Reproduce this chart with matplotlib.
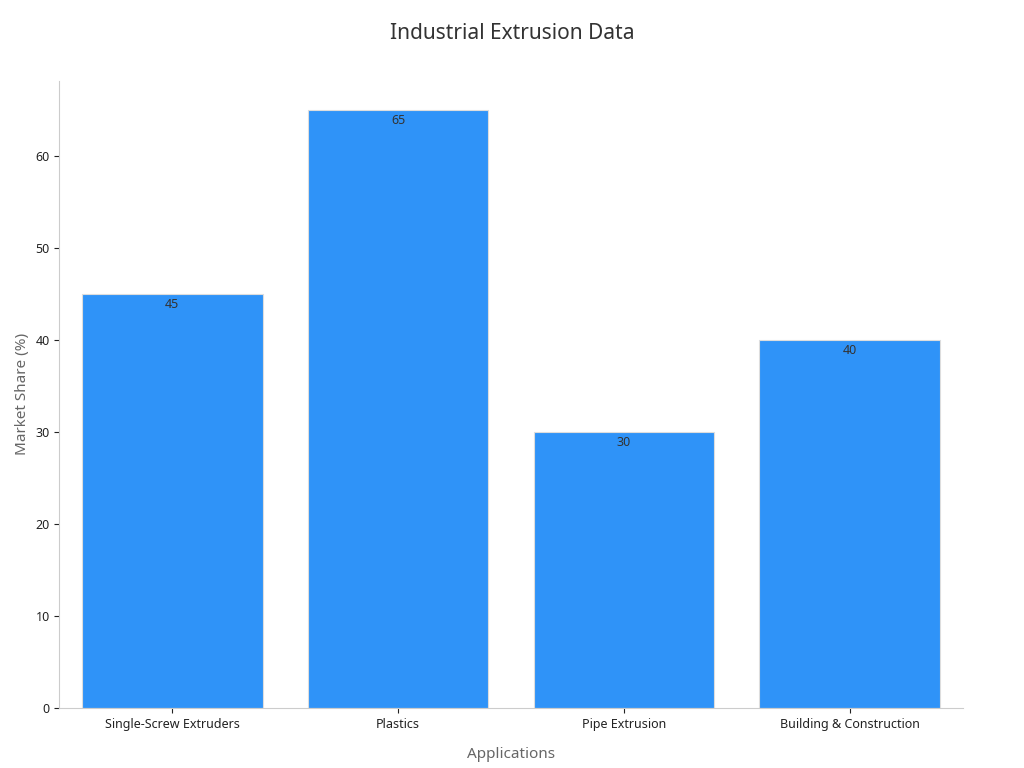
import matplotlib.pyplot as plt

categories = ['Single-Screw Extruders', 'Plastics', 'Pipe Extrusion', 'Building & Construction']
values = [45, 65, 30, 40]

plt.rcParams['font.family'] = ['Noto Sans', 'DejaVu Sans']
fig, ax = plt.subplots(figsize=(10.24, 7.68), dpi=100)
fig.subplots_adjust(left=0.058, right=0.94, top=0.895, bottom=0.078)

bars = ax.bar(categories, values, width=0.8, color='#2f93f8', edgecolor='#dddddd', linewidth=0.8)
for b, v in zip(bars, values):
    ax.text(b.get_x() + b.get_width() / 2, v - 0.4, str(v), ha='center', va='top',
            fontsize=9, color='#333333')

ax.set_xlim(-0.5, 3.5)
ax.set_ylim(0, 68.2)
ax.set_yticks(range(0, 70, 10))
ax.tick_params(labelsize=9, colors='#222222')
for s in ['top', 'right']:
    ax.spines[s].set_visible(False)
for s in ['left', 'bottom']:
    ax.spines[s].set_color('#cccccc')
ax.set_xlabel('Applications', fontsize=11, color='#666666', labelpad=12)
ax.set_ylabel('Market Share (%)', fontsize=11, color='#666666')
fig.suptitle('Industrial Extrusion Data', fontsize=15, color='#333333', x=0.5, y=0.97)

fig.savefig('out.png')
